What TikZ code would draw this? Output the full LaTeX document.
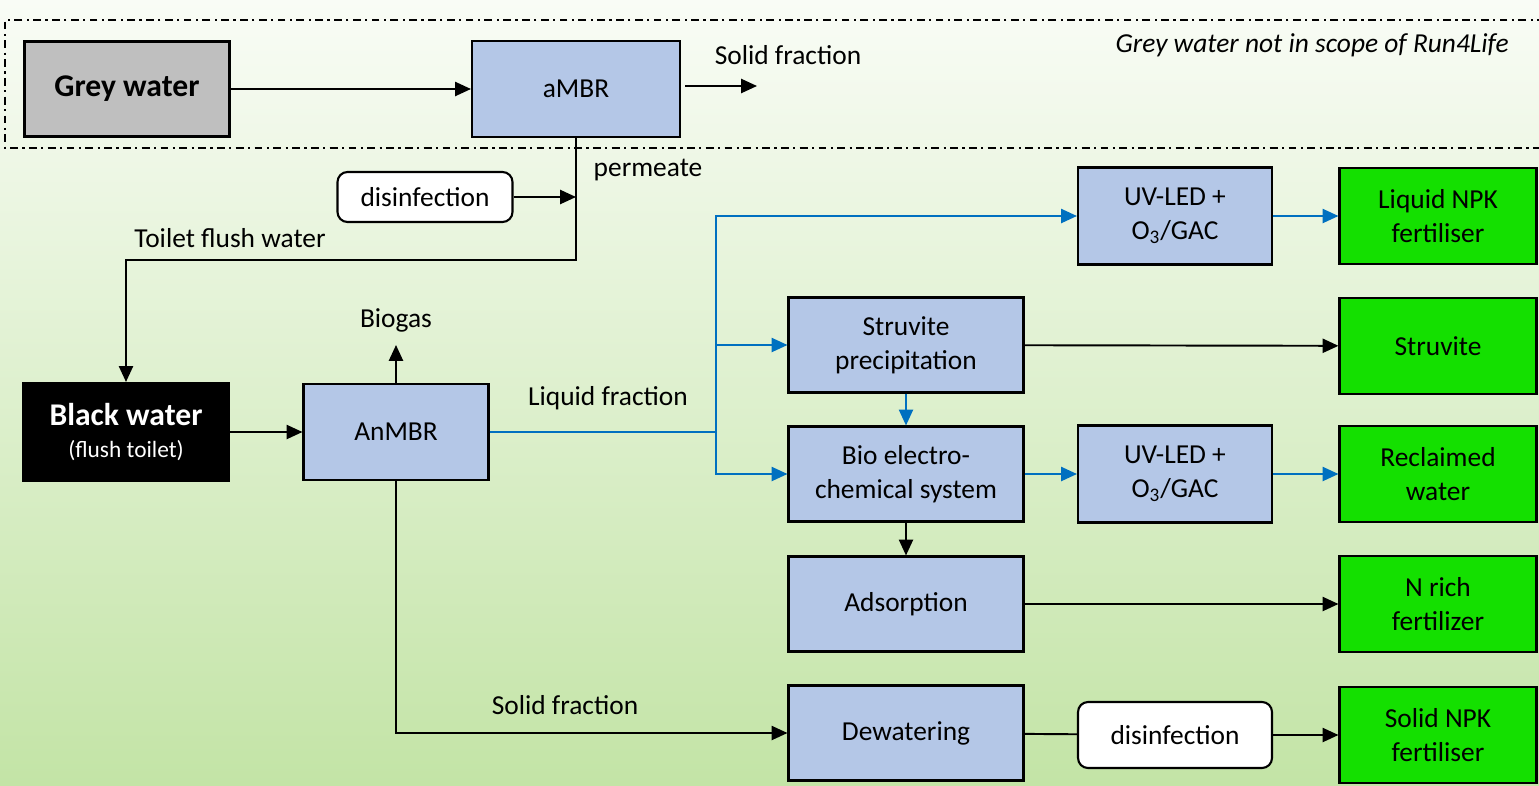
\documentclass[tikz,border=0pt]{standalone}
\usepackage{fontspec}
\setmainfont{Carlito}
\usetikzlibrary{arrows.meta}
\definecolor{procblue}{HTML}{B4C7E7}
\definecolor{prodgreen}{HTML}{14E000}
\definecolor{flowblue}{HTML}{0070C0}
\definecolor{greyfill}{HTML}{BFBFBF}
\definecolor{bgtop}{HTML}{F9FCF6}
\definecolor{bgbottom}{HTML}{C3E4A6}

\begin{document}
\begin{tikzpicture}[x=0.02cm, y=-0.02cm,
    box/.style = {draw, line width=1.2pt, align=center,
        font=\fontsize{15.6}{19.3}\selectfont},
    proc/.style = {box, fill=procblue,
        minimum width=4.7cm, minimum height=1.9cm},
    uvbox/.style = {box, fill=procblue,
        minimum width=3.88cm, minimum height=1.94cm},
    product/.style = {box, fill=prodgreen,
        minimum width=3.94cm, minimum height=1.92cm},
    disinf/.style = {box, fill=white, rounded corners=0.2cm},
    txt/.style = {font=\fontsize{15.6}{19.3}\selectfont},
    line/.style = {line width=1.1pt},
    flow/.style = {line, -{Triangle[length=9pt, width=8pt]}},
    blueflow/.style = {flow, flowblue}]

% Background
\shade[top color=bgtop, bottom color=bgbottom] (0,0) rectangle (1539,785);
\useasboundingbox (0,0) rectangle (1539,785);

% Grey water scope
\draw[line width=0.8pt, dash pattern=on 4.5pt off 2.5pt on 1.2pt off 2.5pt]
    (1545,20) -- (5,20) -- (5,148) -- (1545,148);
\node[txt, font=\fontsize{15.6}{19.3}\selectfont\itshape, anchor=east] (scope) at (1515,45)
    {Grey water not in scope of Run4Life};

% Grey water line
\node[box, fill=greyfill, minimum width=4.1cm, minimum height=1.9cm,
    font=\fontsize{18}{22}\selectfont\bfseries] (grey) at (127,89) {\raisebox{-3pt}{Grey water}};
\node[box, fill=procblue, minimum width=4.16cm, minimum height=1.92cm] (ambr) at (576,89) {aMBR};
\node[txt] (solidtop) at (788,55) {Solid fraction};
\coordinate (solidstart) at (685,86);
\coordinate (solidend) at (757,86);
\node[txt] (permeate) at (648,170) {permeate};
\node[disinf, minimum width=3.5cm, minimum height=1cm] (disinfA) at (425,197) {disinfection};
\node[txt] (flushlabel) at (230,238) {Toilet flush water};
\coordinate (permturn) at (576,260);

% Black water line
\node[box, fill=black, text=white, minimum width=4.12cm, minimum height=1.96cm] (black) at (126,432)
    {{\fontsize{18}{22}\selectfont\bfseries Black water}\\[-1pt]{\fontsize{13.3}{16}\selectfont (flush toilet)}};
\node[box, fill=procblue, minimum width=3.7cm, minimum height=1.92cm] (anmbr) at (396,432) {AnMBR};
\node[txt] (biogas) at (396,320) {Biogas};
\coordinate (biogastip) at (396,345);
\node[txt] (liquid) at (608,398) {Liquid fraction};
\coordinate (split) at (716,432);
\node[txt] (solidlow) at (565,705) {Solid fraction};

% Treatment
\node[uvbox] (uvA) at (1175,216) {UV-LED +\\O\textsubscript{3}/GAC};
\node[proc] (struv) at (906,345) {Struvite\\precipitation};
\node[proc] (bes) at (906,474) {Bio electro-\\chemical system};
\node[uvbox] (uvB) at (1175,474) {UV-LED +\\O\textsubscript{3}/GAC};
\node[proc] (ads) at (906,604) {Adsorption};
\node[proc] (dew) at (906,733) {Dewatering};
\node[disinf, minimum width=3.88cm, minimum height=1.32cm] (disinfB) at (1175,735) {disinfection};

% Products
\node[product] (liqnpk) at (1438,216) {Liquid NPK\\fertiliser};
\node[product] (struvite) at (1438,346) {Struvite};
\node[product] (reclaimed) at (1438,474) {Reclaimed\\water};
\node[product] (nrich) at (1438,604) {N rich\\fertilizer};
\node[product] (solidnpk) at (1438,735) {Solid NPK\\fertiliser};

% Connectors
\draw[flow] (grey) -- (ambr);
\draw[flow] (solidstart) -- (solidend);
\draw[flow] (ambr.south) -- (permturn) -| (black.north);
\draw[flow] (disinfA.east) -- (disinfA.east -| ambr.south);
\draw[flow] (black) -- (anmbr);
\draw[flow] (anmbr.north) -- (biogastip);
\draw[line, flowblue] (anmbr.east) -- (split);
\draw[blueflow] (split) |- (uvA.west);
\draw[blueflow] (split) |- (struv.west);
\draw[blueflow] (split) |- (bes.west);
\draw[blueflow] (uvA) -- (liqnpk);
\draw[blueflow] (struv) -- (bes);
\draw[blueflow] (bes) -- (uvB);
\draw[blueflow] (uvB) -- (reclaimed);
\draw[flow] (struv) -- (struvite);
\draw[flow] (bes) -- (ads);
\draw[flow] (ads) -- (nrich);
\draw[flow] (anmbr.south) |- (dew.west);
\draw[line] (dew) -- (disinfB);
\draw[flow] (disinfB) -- (solidnpk);
\end{tikzpicture}
\end{document}
